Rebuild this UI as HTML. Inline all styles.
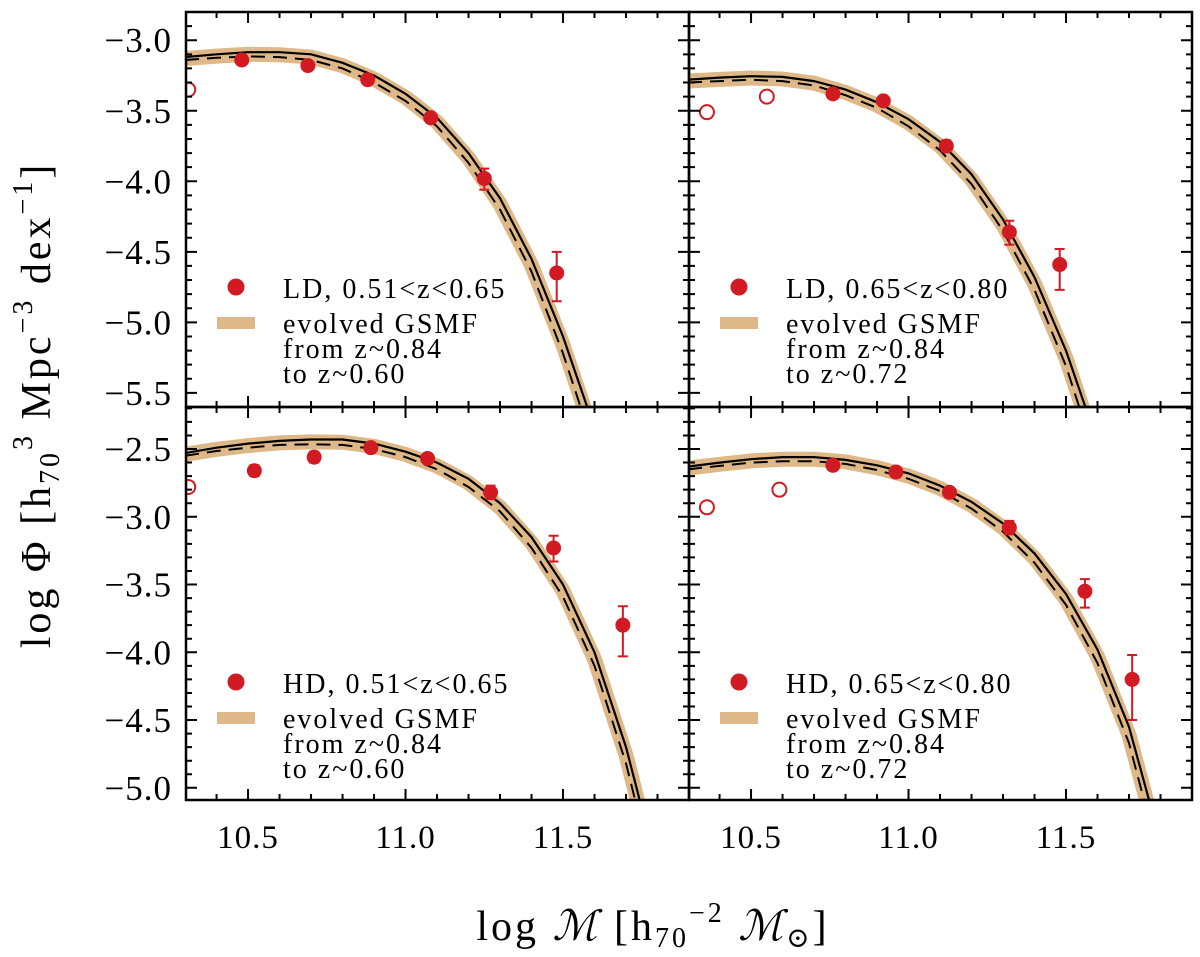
<!DOCTYPE html>
<html><head><meta charset="utf-8"><style>
html,body{margin:0;padding:0;background:#fff;}
svg{display:block;}
text{font-family:"Liberation Serif","DejaVu Serif",serif;fill:#000;}
</style></head><body>
<svg id="chart" width="1200" height="957" viewBox="0 0 1200 957" xmlns="http://www.w3.org/2000/svg">
<defs id="defs"></defs>
<g id="layer"></g>
<text transform="translate(50,405) rotate(-90)" text-anchor="middle" font-size="42" letter-spacing="3">log Φ [h<tspan font-size="28" dy="9">70</tspan><tspan font-size="28" dy="-27">3</tspan><tspan dy="18"> Mpc</tspan><tspan font-size="28" dy="-18">−3</tspan><tspan dy="18"> dex</tspan><tspan font-size="28" dy="-18">−1</tspan><tspan dy="18">]</tspan></text>
<text x="653" y="940" text-anchor="middle" font-size="42" letter-spacing="3">log <tspan font-style="italic">ℳ</tspan> [h<tspan font-size="28" dy="7">70</tspan><tspan font-size="28" dy="-25">−2</tspan><tspan dy="18"> </tspan><tspan font-style="italic">ℳ</tspan><tspan font-size="28" dy="7">⊙</tspan><tspan dy="-7">]</tspan></text>
</svg>
<script>
// ---- data ----
const massGrid = [10.3,10.4,10.5,10.6,10.7,10.8,10.9,11.0,11.1,11.2,11.3,11.4,11.5,11.6,11.7,11.8];
const tlSolid  = [-3.12,-3.10,-3.085,-3.085,-3.10,-3.16,-3.25,-3.38,-3.55,-3.80,-4.12,-4.55,-5.10,-5.75,-6.5,-7.3];
const tlDashed = [-3.14,-3.125,-3.115,-3.12,-3.14,-3.20,-3.30,-3.43,-3.61,-3.87,-4.20,-4.64,-5.22,-5.9,-6.6,-7.4];
const trSolid  = [-3.28,-3.265,-3.255,-3.26,-3.29,-3.35,-3.44,-3.56,-3.72,-3.95,-4.27,-4.68,-5.20,-5.85,-6.6,-7.4];
const trDashed = [-3.30,-3.29,-3.28,-3.29,-3.32,-3.39,-3.48,-3.61,-3.78,-4.02,-4.35,-4.77,-5.31,-6.0,-6.7,-7.5];
const blSolid  = [-2.53,-2.49,-2.46,-2.44,-2.43,-2.43,-2.46,-2.52,-2.60,-2.72,-2.90,-3.15,-3.50,-4.00,-4.70,-5.6];
const blDashed = [-2.55,-2.515,-2.49,-2.47,-2.465,-2.47,-2.50,-2.56,-2.65,-2.78,-2.96,-3.23,-3.59,-4.10,-4.82,-5.75];
const brSolid  = [-2.63,-2.60,-2.575,-2.56,-2.56,-2.58,-2.62,-2.68,-2.77,-2.89,-3.05,-3.27,-3.57,-3.98,-4.55,-5.4];
const brDashed = [-2.65,-2.625,-2.60,-2.59,-2.59,-2.61,-2.655,-2.72,-2.81,-2.94,-3.11,-3.34,-3.65,-4.08,-4.67,-5.55];

const tlMass = [10.48,10.69,10.88,11.08,11.25,11.48];
const tlPhi  = [-3.14,-3.18,-3.28,-3.55,-3.98,-4.65];
const tlErrHi= [0.02,0.02,0.02,0.03,0.07,0.15];
const tlErrLo= [0.02,0.02,0.02,0.03,0.08,0.20];
const tlOpenMass=[10.31]; const tlOpenPhi=[-3.35];

const trMass = [10.76,10.92,11.12,11.32,11.48];
const trPhi  = [-3.38,-3.43,-3.75,-4.36,-4.59];
const trErrHi= [0.02,0.02,0.04,0.08,0.11];
const trErrLo= [0.02,0.02,0.04,0.09,0.18];
const trOpenMass=[10.36,10.55]; const trOpenPhi=[-3.51,-3.40];

const blMass = [10.52,10.71,10.89,11.07,11.27,11.47,11.69];
const blPhi  = [-2.66,-2.56,-2.49,-2.57,-2.82,-3.23,-3.80];
const blErrHi= [0.04,0.04,0.03,0.03,0.05,0.09,0.14];
const blErrLo= [0.04,0.04,0.03,0.03,0.05,0.10,0.23];
const blOpenMass=[10.31]; const blOpenPhi=[-2.78];

const brMass = [10.76,10.96,11.13,11.32,11.56,11.71];
const brPhi  = [-2.62,-2.67,-2.82,-3.08,-3.55,-4.20];
const brErrHi= [0.02,0.02,0.03,0.05,0.09,0.18];
const brErrLo= [0.02,0.02,0.03,0.05,0.12,0.30];
const brOpenMass=[10.36,10.59]; const brOpenPhi=[-2.93,-2.80];

const xTickLabels = ["10.5","11.0","11.5"];
const xTickValues = [10.5,11.0,11.5];
const topYTickValues = [-3.0,-3.5,-4.0,-4.5,-5.0,-5.5];
const topYTickLabels = ["−3.0","−3.5","−4.0","−4.5","−5.0","−5.5"];
const botYTickValues = [-2.5,-3.0,-3.5,-4.0,-4.5,-5.0];
const botYTickLabels = ["−2.5","−3.0","−3.5","−4.0","−4.5","−5.0"];

const legendLabels = ["LD, 0.51<z<0.65","LD, 0.65<z<0.80","HD, 0.51<z<0.65","HD, 0.65<z<0.80"];
const legendTargets = ["to z~0.60","to z~0.72","to z~0.60","to z~0.72"];

// ---- layout ----
const NS="http://www.w3.org/2000/svg";
const layer=document.getElementById('layer');
const defs=document.getElementById('defs');
const RED="#d21a22", TAN="#deb887";
function mk(tag,attrs,parent){const e=document.createElementNS(NS,tag);for(const k in attrs)e.setAttribute(k,attrs[k]);(parent||layer).appendChild(e);return e;}

const panels=[
 {id:'top-left',x0:186,x1:689,y0:12,y1:407,ymax:-2.80,ymin:-5.60,solid:tlSolid,dashed:tlDashed,m:tlMass,p:tlPhi,eh:tlErrHi,el:tlErrLo,om:tlOpenMass,op:tlOpenPhi,yt:topYTickValues,yl:topYTickLabels,leg:0,showX:false,showY:true},
 {id:'top-right',x0:689,x1:1192,y0:12,y1:407,ymax:-2.80,ymin:-5.60,solid:trSolid,dashed:trDashed,m:trMass,p:trPhi,eh:trErrHi,el:trErrLo,om:trOpenMass,op:trOpenPhi,yt:topYTickValues,yl:topYTickLabels,leg:1,showX:false,showY:false},
 {id:'bottom-left',x0:186,x1:689,y0:407,y1:800,ymax:-2.19,ymin:-5.09,solid:blSolid,dashed:blDashed,m:blMass,p:blPhi,eh:blErrHi,el:blErrLo,om:blOpenMass,op:blOpenPhi,yt:botYTickValues,yl:botYTickLabels,leg:2,showX:true,showY:true},
 {id:'bottom-right',x0:689,x1:1192,y0:407,y1:800,ymax:-2.19,ymin:-5.09,solid:brSolid,dashed:brDashed,m:brMass,p:brPhi,eh:brErrHi,el:brErrLo,om:brOpenMass,op:brOpenPhi,yt:botYTickValues,yl:botYTickLabels,leg:3,showX:true,showY:false}
];
const XMIN=10.303, XMAX=11.90;

panels.forEach((P,pi)=>{
  const sx=v=>P.x0+(v-XMIN)/(XMAX-XMIN)*(P.x1-P.x0);
  const sy=v=>P.y0+(P.ymax-v)/(P.ymax-P.ymin)*(P.y1-P.y0);
  const g=mk('g',{});
  
  
  const cp=mk('clipPath',{id:'clip'+pi},defs);
  mk('rect',{x:P.x0,y:P.y0,width:P.x1-P.x0,height:P.y1-P.y0},cp);
  const cg=mk('g',{'clip-path':'url(#clip'+pi+')'},g);
  const pts=arr=>massGrid.map((m,i)=>sx(m).toFixed(1)+','+sy(arr[i]).toFixed(1)).join(' ');
  const mid=massGrid.map((m,i)=>(P.solid[i]+P.dashed[i])/2);
  const band=mk('polyline',{points:pts(mid),fill:'none',stroke:TAN,'stroke-width':15,'stroke-linejoin':'round'},cg);
  
  
  const sl=mk('polyline',{points:pts(P.solid),fill:'none',stroke:'#000','stroke-width':2.2},cg);
  
  
  const dl=mk('polyline',{points:pts(P.dashed),fill:'none',stroke:'#000','stroke-width':2,'stroke-dasharray':'14,8'},cg);
  
  
  P.m.forEach((m,i)=>{
    const x=sx(m), y=sy(P.p[i]);
    const eb=mk('path',{d:`M${x} ${sy(P.p[i]+P.eh[i])}V${sy(P.p[i]-P.el[i])}M${x-5} ${sy(P.p[i]+P.eh[i])}H${x+5}M${x-5} ${sy(P.p[i]-P.el[i])}H${x+5}`,stroke:RED,'stroke-width':2,fill:'none'},cg);
    
    
    const c=mk('circle',{cx:x,cy:y,r:7.5,fill:RED},cg);
    
    
  });
  P.om.forEach((m,i)=>{
    const c=mk('circle',{cx:sx(m),cy:sy(P.op[i]),r:7,fill:'none',stroke:RED,'stroke-width':2},cg);
    
    
  });
  let d='';
  for(let k=0;k<=16;k++){const v=10.3+k*0.1; if(v<XMIN-1e-6||v>XMAX+1e-6)continue; const x=sx(v); const maj=Math.abs(v*2-Math.round(v*2))<1e-6; const L=maj?11:6;
    d+=`M${x} ${P.y1}v${-L}M${x} ${P.y0}v${L}`;}
  for(let k=0;k<=40;k++){const v=-2.0-k*0.1; if(v>P.ymax+1e-6||v<P.ymin-1e-6)continue; const y=sy(v); const maj=Math.abs(v*2-Math.round(v*2))<1e-6; const L=maj?11:6;
    d+=`M${P.x0} ${y}h${L}M${P.x1} ${y}h${-L}`;}
  const tk=mk('path',{d:d,stroke:'#000','stroke-width':2,fill:'none'},g);
  
  
  const fr=mk('rect',{x:P.x0,y:P.y0,width:P.x1-P.x0,height:P.y1-P.y0,fill:'none',stroke:'#000','stroke-width':2.5},g);
  
  
  if(P.showY){P.yt.forEach((v,i)=>{const t=mk('text',{x:172,y:sy(v)+12,'text-anchor':'end','font-size':35,'letter-spacing':1},g);t.textContent=P.yl[i];
    
    });}
  if(P.showX){xTickValues.forEach((v,i)=>{const t=mk('text',{x:sx(v),y:848,'text-anchor':'middle','font-size':33,'letter-spacing':1},g);t.textContent=xTickLabels[i];
    
    });}
  const lx=P.x0, ly=(P.y0===12)?287:682;
  const lg=mk('g',{},g);
  
  
  mk('circle',{cx:lx+50,cy:ly,r:8.5,fill:RED},lg);
  const t1=mk('text',{x:lx+97,y:ly+11,'font-size':28,'letter-spacing':2},lg);t1.textContent=legendLabels[P.leg];
  
  
  mk('rect',{x:lx+31,y:ly+30,width:38,height:12,fill:TAN},lg);
  ['evolved GSMF','from z~0.84',legendTargets[P.leg]].forEach((s,i)=>{const t=mk('text',{x:lx+97,y:ly+46+i*25,'font-size':28,'letter-spacing':2},lg);t.textContent=s;
    
    });
});
</script>
</body></html>
